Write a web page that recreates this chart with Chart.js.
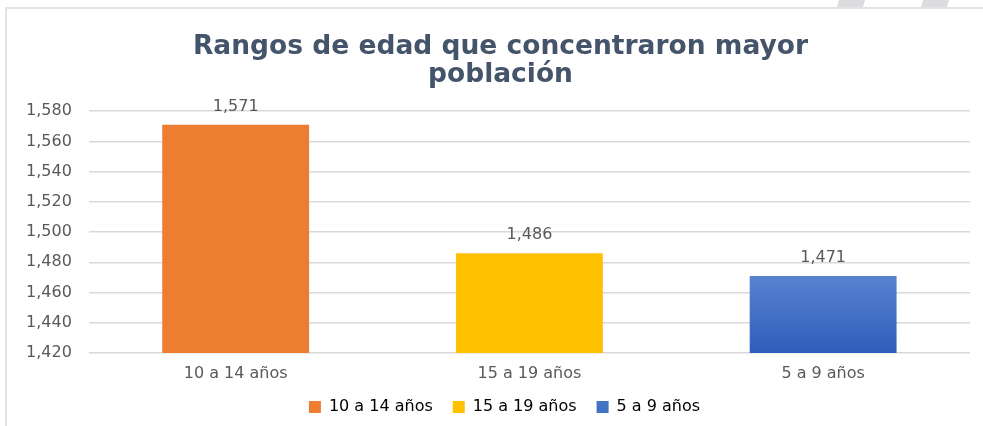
<!DOCTYPE html>
<html>
<head>
<meta charset="utf-8">
<script src="https://cdn.jsdelivr.net/npm/chart.js@4.4.0/dist/chart.umd.min.js"></script>
<style>
  html, body { margin: 0; padding: 0; background: #fff; }
  #wrap { position: relative; width: 983px; height: 426px; overflow: hidden; }
  #box { position: absolute; left: 5px; top: 7px; width: 1000px; height: 440px;
         border-left: 2px solid #e3e3e6; border-top: 2px solid #e3e3e6; }
  .stripe { position: absolute; top: 0; height: 7px; width: 26px; background: #dcdcdf;
            transform: skewX(-18deg); }
  canvas { position: absolute; left: 0; top: 0; }
</style>
</head>
<body>
<div id="wrap">
  <div id="box"></div>
  <div class="stripe" style="left:838px"></div>
  <div class="stripe" style="left:922px"></div>
  <canvas id="chart" width="983" height="426"></canvas>
</div>
<script>
var categories = ["10 a 14 años", "15 a 19 años", "5 a 9 años"];
var values = [1571, 1486, 1471];
var colors = ["#ED7D31", "#FFC000", "#4472C4"];
var yTicks = [1420, 1440, 1460, 1480, 1500, 1520, 1540, 1560, 1580];

var ctx = document.getElementById("chart").getContext("2d");

function fmt(v) {
  return v.toLocaleString("en-US");
}

var valueLabels = {
  id: "valueLabels",
  afterDatasetsDraw: function (chart) {
    var c = chart.ctx;
    c.save();
    c.font = "16px 'DejaVu Sans'";
    c.fillStyle = "#595959";
    c.textAlign = "center";
    c.textBaseline = "bottom";
    chart.data.datasets.forEach(function (ds, i) {
      var meta = chart.getDatasetMeta(i);
      meta.data.forEach(function (bar, j) {
        if (ds.data[j] == null) return;
        c.fillText(fmt(ds.data[j]), bar.x, bar.y - 10);
      });
    });
    c.restore();
  }
};

// title and legend sit a little right of the chart centre in the original
var nudge = {
  id: "nudge",
  afterLayout: function (chart) {
    if (chart.legend) { chart.legend.left += 15; chart.legend.right += 15; }
    if (chart.titleBlock) { chart.titleBlock.left += 11; chart.titleBlock.right += 11; }
  }
};

// one dataset per category so the legend shows each colour
var datasets = categories.map(function (cat, i) {
  var data = categories.map(function (_, j) { return j === i ? values[i] : null; });
  return {
    label: cat,
    data: data,
    backgroundColor: function (context) {
      if (i !== 2) return colors[i];
      var area = context.chart.chartArea;
      if (!area) return colors[i];
      var g = context.chart.ctx.createLinearGradient(0, area.top + 160, 0, area.bottom);
      g.addColorStop(0, "#5B84D2");
      g.addColorStop(1, "#2F5DBA");
      return g;
    },
    borderWidth: 0,
    barPercentage: 0.5,
    categoryPercentage: 1,
    grouped: false,
    skipNull: true
  };
});

new Chart(ctx, {
  type: "bar",
  data: { labels: categories, datasets: datasets },
  plugins: [valueLabels, nudge],
  options: {
    responsive: false,
    animation: false,
    layout: { padding: { left: 9, right: 13, top: 33, bottom: 1 } },
    plugins: {
      title: {
        display: true,
        text: ["Rangos de edad que concentraron mayor", "población"],
        color: "#44546A",
        font: { family: "'DejaVu Sans'", size: 26.5, weight: "bold", lineHeight: 1.06 },
        padding: { top: 0, bottom: 22 }
      },
      legend: {
        position: "bottom",
        labels: {
          color: "#595959",
          font: { family: "'DejaVu Sans'", size: 16 },
          boxWidth: 12,
          boxHeight: 12,
          padding: 20,
          generateLabels: function (chart) {
            return categories.map(function (cat, i) {
              return {
                text: cat,
                fillStyle: i === 2 ? "#4472C4" : colors[i],
                strokeStyle: "transparent",
                lineWidth: 0,
                datasetIndex: i
              };
            });
          }
        }
      },
      tooltip: { enabled: false }
    },
    scales: {
      x: {
        grid: { display: false },
        border: { display: false },
        ticks: { color: "#595959", font: { family: "'DejaVu Sans'", size: 16 }, padding: 3 },
        afterFit: function (scale) { scale.height = 26; }
      },
      y: {
        min: yTicks[0],
        max: yTicks[yTicks.length - 1],
        afterBuildTicks: function (axis) {
          axis.ticks = yTicks.map(function (v) { return { value: v }; });
        },
        grid: { color: "#D9D9D9", lineWidth: 1.5, drawTicks: false },
        border: { display: false },
        ticks: {
          color: "#595959",
          font: { family: "'DejaVu Sans'", size: 16 },
          padding: 17,
          callback: function (v) { return fmt(v); }
        }
      }
    }
  }
});
</script>
</body>
</html>
